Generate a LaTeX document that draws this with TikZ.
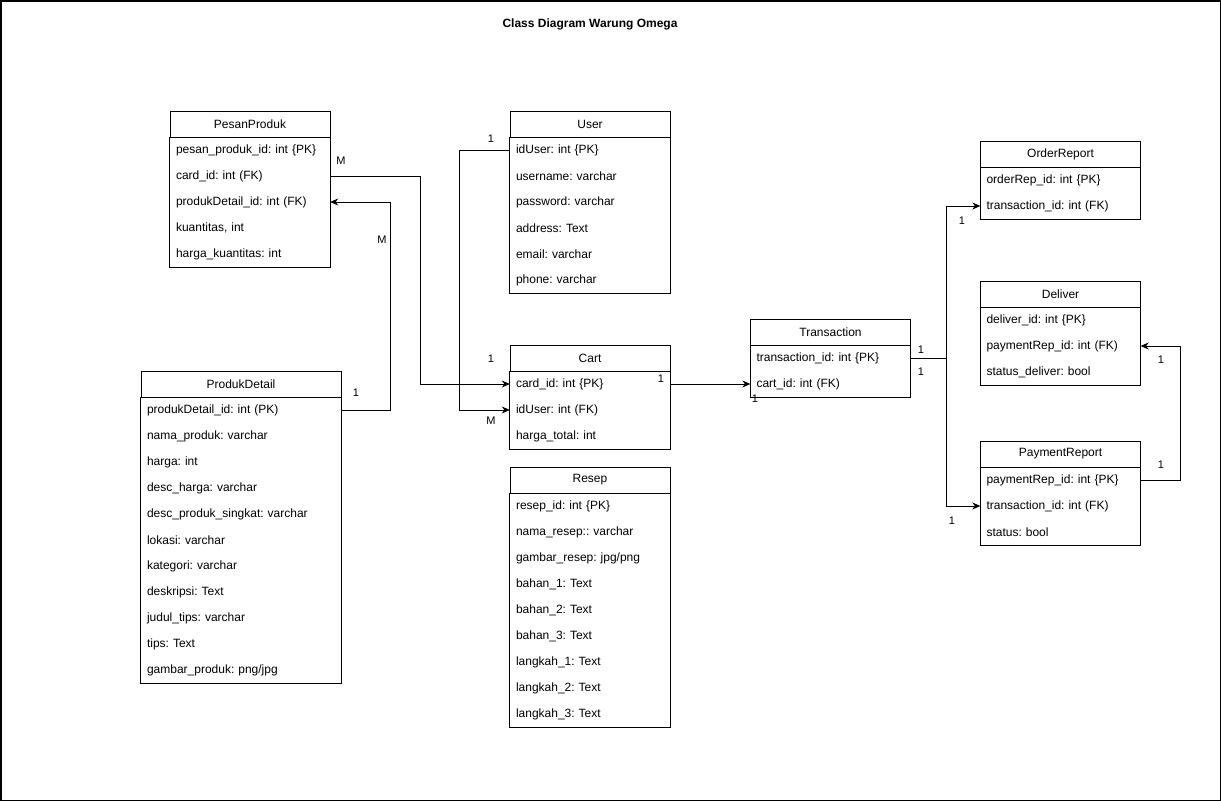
\documentclass[tikz,border=0pt]{standalone}
\usepackage{fontspec}
\setmainfont{Liberation Sans}
\usetikzlibrary{arrows.meta}
\frenchspacing

\tikzset{
  classhead/.style={draw, line width=0.8pt, minimum width=#1, minimum height=26pt, inner sep=0pt, font=\fontsize{12}{14}\selectfont},
  classhead/.default=160pt,
  field/.style={text width=#1, inner xsep=6pt, inner ysep=0pt, minimum height=26pt, align=left, font=\fontsize{12}{14}\selectfont},
  field/.default=148pt,
  link/.style={-{Stealth[length=8pt,width=7pt]}, line width=0.8pt},
  mult/.style={font=\fontsize{11}{13}\selectfont, inner sep=0pt}
}

\begin{document}
\begin{tikzpicture}[x=1pt,y=-1pt]

\useasboundingbox (0,0) rectangle (1221,801);
\draw[line width=1.5pt] (0.75,0.75) rectangle (1220.25,800.25);

\node[font=\bfseries\fontsize{12}{14}\selectfont] (title) at (590,24) {Class Diagram Warung Omega};

% PesanProduk
\node[classhead] (pesan) at (250,124) {PesanProduk};
\foreach \t [count=\i] in {pesan\_produk\_id: int \{PK\}, card\_id: int (FK), produkDetail\_id: int (FK), {kuantitas, int}, harga\_kuantitas: int}
{
\node[field] (pesan\i) at (250,124+26*\i) {\t};
}
\draw[line width=0.8pt] (pesan.south west) rectangle (pesan5.south east);

% ProdukDetail
\node[classhead=200pt] (prod) at (241,384) {ProdukDetail};
\foreach \t [count=\i] in {produkDetail\_id: int (PK), nama\_produk: varchar, harga: int, desc\_harga: varchar, desc\_produk\_singkat: varchar, lokasi: varchar, kategori: varchar, deskripsi: Text, judul\_tips: varchar, tips: Text, gambar\_produk: png/jpg}
{
\node[field=188pt] (prod\i) at (241,384+26*\i) {\t};
}
\draw[line width=0.8pt] (prod.south west) rectangle (prod11.south east);

% User
\node[classhead] (user) at (590,124) {User};
\foreach \t [count=\i] in {idUser: int \{PK\}, username: varchar, password: varchar, address: Text, email: varchar, phone: varchar}
{
\node[field] (user\i) at (590,124+26*\i) {\t};
}
\draw[line width=0.8pt] (user.south west) rectangle (user6.south east);

% Cart
\node[classhead] (cart) at (590,358) {Cart};
\foreach \t [count=\i] in {card\_id: int \{PK\}, idUser: int (FK), harga\_total: int}
{
\node[field] (cart\i) at (590,358+26*\i) {\t};
}
\draw[line width=0.8pt] (cart.south west) rectangle (cart3.south east);

% Resep
\node[classhead] (resep) at (590,480) {Resep};
\foreach \t [count=\i] in {resep\_id: int \{PK\}, nama\_resep:: varchar, gambar\_resep: jpg/png, bahan\_1: Text, bahan\_2: Text, bahan\_3: Text, langkah\_1: Text, langkah\_2: Text, langkah\_3: Text}
{
\node[field] (resep\i) at (590,480+26*\i) {\t};
}
\draw[line width=0.8pt] (resep.south west) rectangle (resep9.south east);

% Transaction
\node[classhead] (trans) at (830.5,332) {Transaction};
\foreach \t [count=\i] in {transaction\_id: int \{PK\}, cart\_id: int (FK)}
{
\node[field] (trans\i) at (830.5,332+26*\i) {\t};
}
\draw[line width=0.8pt] (trans.south west) rectangle (trans2.south east);

% OrderReport
\node[classhead] (order) at (1060.5,154) {OrderReport};
\foreach \t [count=\i] in {orderRep\_id: int \{PK\}, transaction\_id: int (FK)}
{
\node[field] (order\i) at (1060.5,154+26*\i) {\t};
}
\draw[line width=0.8pt] (order.south west) rectangle (order2.south east);

% Deliver
\node[classhead] (deliver) at (1060.5,294) {Deliver};
\foreach \t [count=\i] in {deliver\_id: int \{PK\}, paymentRep\_id: int (FK), status\_deliver: bool}
{
\node[field] (deliver\i) at (1060.5,294+26*\i) {\t};
}
\draw[line width=0.8pt] (deliver.south west) rectangle (deliver3.south east);

% PaymentReport
\node[classhead] (pay) at (1060.5,454) {PaymentReport};
\foreach \t [count=\i] in {paymentRep\_id: int \{PK\}, transaction\_id: int (FK), status: bool}
{
\node[field] (pay\i) at (1060.5,454+26*\i) {\t};
}
\draw[line width=0.8pt] (pay.south west) rectangle (pay3.south east);

% relations
\draw[link] (pesan2.east) -- ++(90,0) |- (cart1.west);
\draw[link] (prod1.east) -- ++(49,0) |- (pesan3.east);
\draw[link] (user1.west) -- ++(-50,0) |- (cart2.west);
\draw[link] (cart1.east) -- (trans2.west);
\draw[link] (trans1.east) -- ++(36,0) |- (order2.west);
\draw[link] (trans1.east) -- ++(36,0) |- (pay2.west);
\draw[link] (pay1.east) -- ++(40,0) |- (deliver2.east);

% multiplicities
\node[mult] (m1) at (341,161) {M};
\node[mult] (m2) at (491,139) {1};
\node[mult] (m3) at (491,359) {1};
\node[mult] (m4) at (491,421) {M};
\node[mult] (m5) at (356,393) {1};
\node[mult] (m6) at (382,240) {M};
\node[mult] (m7) at (661,379) {1};
\node[mult] (m8) at (755,399) {1};
\node[mult] (m9) at (921,350) {1};
\node[mult] (m10) at (921,372) {1};
\node[mult] (m11) at (962,221) {1};
\node[mult] (m12) at (952,521) {1};
\node[mult] (m13) at (1161,360) {1};
\node[mult] (m14) at (1161,465) {1};

\end{tikzpicture}
\end{document}
